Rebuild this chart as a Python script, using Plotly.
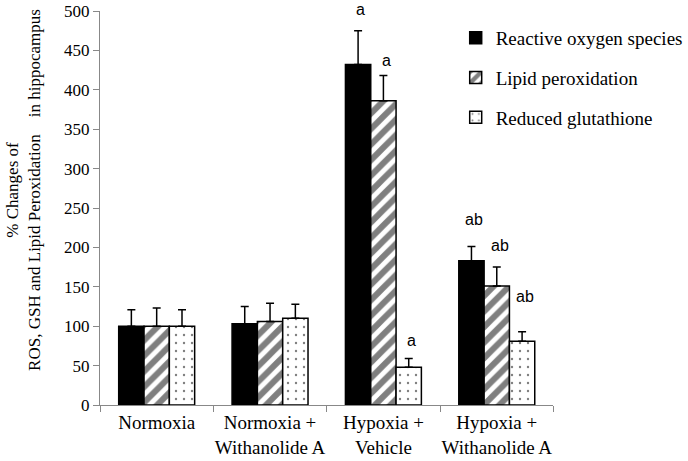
import plotly.graph_objects as go

categories = ["Normoxia", "Normoxia +<br>Withanolide A", "Hypoxia +<br>Vehicle", "Hypoxia +<br>Withanolide A"]
series_names = ["Reactive oxygen species", "Lipid peroxidation", "Reduced glutathione"]
ros = [100, 103, 432, 183]
ros_err = [21, 22, 43, 18]
lpo = [100, 106, 386, 151]
lpo_err = [23, 23, 32, 24]
gsh = [100, 110, 48, 81]
gsh_err = [21, 18, 11, 12]
ros_sig = ["", "", "a", "ab"]
lpo_sig = ["", "", "a", "ab"]
gsh_sig = ["", "", "a", "ab"]
y_ticks = [0, 50, 100, 150, 200, 250, 300, 350, 400, 450, 500]
y_title = ("% Changes of<br>ROS, GSH and Lipid Peroxidation"
           "\u00a0\u00a0\u00a0\u00a0in hippocampus")

serif = "Liberation Serif"

fig = go.Figure()
values = [ros, lpo, gsh]
errs = [ros_err, lpo_err, gsh_err]
sigs = [ros_sig, lpo_sig, gsh_sig]
patterns = [
    dict(shape=""),
    dict(shape="/", fgcolor="black", bgcolor="white", size=11, solidity=0.55),
    dict(shape=".", fgcolor="black", bgcolor="white", size=8, solidity=0.07),
]
colors = ["black", "white", "white"]

for i in range(3):
    fig.add_trace(go.Bar(
        x=categories, y=values[i], name=series_names[i], legendgroup=f"g{i}",
        marker=dict(color=colors[i], line=dict(color="black", width=1.5), pattern=patterns[i]),
        error_y=dict(type="data", array=errs[i], arrayminus=[0] * 4, symmetric=False,
                     color="black", thickness=1.5, width=4),
    ))

# significance labels
offsets = [-1, 0, 1]
shifts = {("a", 0): 21, ("a", 1): 15, ("a", 2): 18, ("ab", 0): 27, ("ab", 1): 22, ("ab", 2): 35}
for i in range(3):
    for j, s in enumerate(sigs[i]):
        if s:
            fig.add_annotation(
                x=j, y=values[i][j] + errs[i][j], text=s, showarrow=False,
                xshift=offsets[i] * 25.5 + 3, yshift=shifts[(s, i)],
                yanchor="middle",
                font=dict(family="Liberation Sans", size=16, color="black"),
            )

fig.add_annotation(xref="paper", yref="paper", x=0, y=0.546, xshift=-76,
                   text=y_title, textangle=-90, showarrow=False,
                   xanchor="center", yanchor="middle", align="center",
                   font=dict(family=serif, size=17, color="black"))

fig.update_layout(
    width=688, height=461,
    margin=dict(l=100, r=0, t=11, b=56),
    plot_bgcolor="white", paper_bgcolor="white",
    barmode="group", bargap=0.33, bargroupgap=0,
    font=dict(family=serif, size=17, color="black"),
    legend=dict(x=0.607, y=0.98, xanchor="left", yanchor="top",
                font=dict(family=serif, size=19, color="black"),
                tracegroupgap=12, itemwidth=30, bgcolor="rgba(0,0,0,0)"),
    xaxis=dict(domain=[0, 455 / 588], showline=True, linecolor="#888888", linewidth=1, ticks="outside",
               tickson="boundaries", ticklen=6, tickcolor="#888888", tickangle=0,
               tickfont=dict(family=serif, size=19, color="black")),
    yaxis=dict(range=[0, 500], tickvals=y_ticks, showline=True, linecolor="#888888", linewidth=1,
               ticks="outside", ticklen=6, tickcolor="#888888", showgrid=False, zeroline=False,
               tickfont=dict(family=serif, size=17, color="black")),
)

fig.write_html("out.html", config={"displayModeBar": False},
               post_script="document.body.style.margin='0';document.body.style.overflow='hidden';")
